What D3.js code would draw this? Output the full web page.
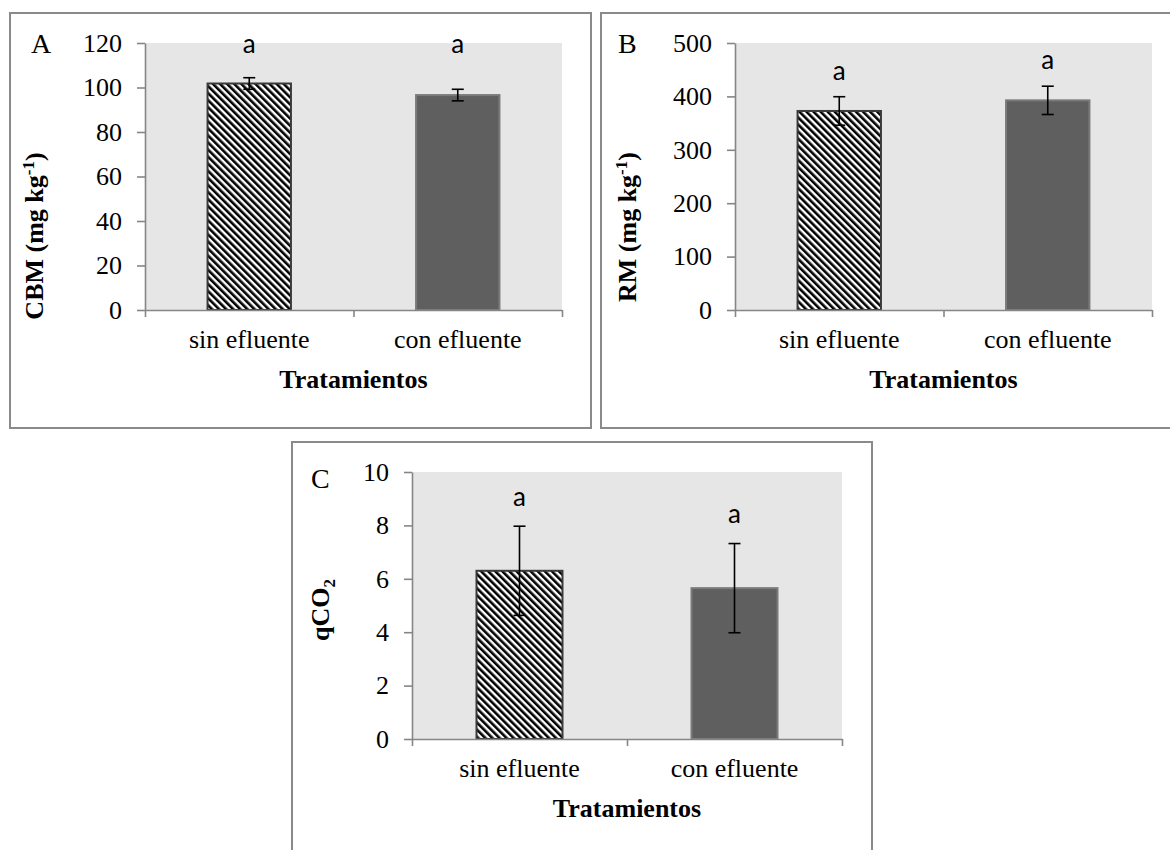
<!DOCTYPE html>
<html>
<head>
<meta charset="utf-8">
<script src="https://cdn.jsdelivr.net/npm/d3@7"></script>
<style>
body { margin: 0; background: #fff; }
svg text { font-family: "Liberation Serif", "Times New Roman", serif; }
svg text.sig { font-family: Lato, "Open Sans", sans-serif; }
</style>
</head>
<body>
<svg id="fig"></svg>
<script>
var width = 1170;
var height = 850;
var serif = 'Liberation Serif';

// data
var categories = ["sin efluente", "con efluente"];

var cbmValues = [101.8, 96.6];
var cbmErrors = [2.6, 2.6];
var cbmTicks = [0, 20, 40, 60, 80, 100, 120];
var cbmLetters = ["a", "a"];
var cbmLetterAt = [115.4, 115.4];

var rmValues = [372.7, 392.6];
var rmErrors = [26.7, 26.5];
var rmTicks = [0, 100, 200, 300, 400, 500];
var rmLetters = ["a", "a"];
var rmLetterAt = [430.7, 450.7];

var qco2Values = [6.3, 5.65];
var qco2Errors = [1.67, 1.67];
var qco2Ticks = [0, 2, 4, 6, 8, 10];
var qco2Letters = ["a", "a"];
var qco2LetterAt = [8.74, 8.08];

var xTitle = "Tratamientos";
var fills = ["url(#hatch)", "#5f5f5f"];
var strokes = ["#3a3a3a", "#7a7a7a"];

var svg = d3.select('#fig')
    .attr('width', width)
    .attr('height', height);

// diagonal hatch for the "sin efluente" bars
var pat = svg.append('defs').append('pattern')
    .attr('id', 'hatch')
    .attr('patternUnits', 'userSpaceOnUse')
    .attr('width', 5)
    .attr('height', 5)
    .attr('patternTransform', 'rotate(-45)');
pat.append('rect').attr('width', 5).attr('height', 5).attr('fill', '#fff');
pat.append('rect').attr('width', 2.6).attr('height', 5).attr('fill', '#000');

var panels = [
    {letter: "A", frame: [10, 13, 591, 428], plot: [145, 43, 562, 310],
     values: cbmValues, errors: cbmErrors, ticks: cbmTicks, letters: cbmLetters, letterAt: cbmLetterAt,
     title: [["CBM (mg kg", 0], ["-1", -1], [")", 0]], titleX: 43, titleY: 236,
     letterX: 31, letterY: 53},
    {letter: "B", frame: [601, 13, 1181, 428], plot: [735, 43, 1152, 310],
     values: rmValues, errors: rmErrors, ticks: rmTicks, letters: rmLetters, letterAt: rmLetterAt,
     title: [["RM (mg kg", 0], ["-1", -1], [")", 0]], titleX: 636, titleY: 227,
     letterX: 618, letterY: 53},
    {letter: "C", frame: [292, 442, 872, 880], plot: [412, 472, 842, 739],
     values: qco2Values, errors: qco2Errors, ticks: qco2Ticks, letters: qco2Letters, letterAt: qco2LetterAt,
     title: [["qCO", 0], ["2", 1]], titleX: 329, titleY: 610,
     letterX: 311, letterY: 488}
];

panels.forEach(drawPanel);

function drawPanel(p) {
    var g = svg.append('g');
    var left = p.plot[0], top = p.plot[1], right = p.plot[2], bottom = p.plot[3];

    g.append('rect')
        .attr('x', p.frame[0]).attr('y', p.frame[1])
        .attr('width', p.frame[2] - p.frame[0])
        .attr('height', p.frame[3] - p.frame[1])
        .attr('fill', '#fff')
        .attr('stroke', '#8a8a8a')
        .attr('stroke-width', 2);

    var x = d3.scaleBand()
        .domain(categories)
        .range([left, right])
        .paddingInner(0.6)
        .paddingOuter(0.3);

    var y = d3.scaleLinear()
        .domain([0, d3.max(p.ticks)])
        .range([bottom, top]);

    g.append('rect')
        .attr('x', left).attr('y', top)
        .attr('width', right - left).attr('height', bottom - top)
        .attr('fill', '#e6e6e6');

    var rows = categories.map(function(c, i) {
        return {cat: c, v: p.values[i], e: p.errors[i], lab: p.letters[i], at: p.letterAt[i], i: i};
    });

    g.selectAll('rect.bar')
        .data(rows)
        .enter()
        .append('rect')
        .attr('class', 'bar')
        .attr('x', function(d) { return x(d.cat); })
        .attr('y', function(d) { return y(d.v); })
        .attr('width', x.bandwidth())
        .attr('height', function(d) { return y(0) - y(d.v); })
        .style('fill', function(d) { return fills[d.i]; })
        .style('stroke', function(d) { return strokes[d.i]; })
        .style('stroke-width', 2);

    var eb = g.selectAll('g.err')
        .data(rows)
        .enter()
        .append('g')
        .attr('class', 'err')
        .attr('stroke', '#000')
        .attr('stroke-width', 1.6);
    var cx = function(d) { return x(d.cat) + x.bandwidth() / 2; };
    eb.append('line')
        .attr('x1', cx).attr('x2', cx)
        .attr('y1', function(d) { return y(d.v + d.e); })
        .attr('y2', function(d) { return y(d.v - d.e); });
    eb.append('line')
        .attr('x1', function(d) { return cx(d) - 6; }).attr('x2', function(d) { return cx(d) + 6; })
        .attr('y1', function(d) { return y(d.v + d.e); })
        .attr('y2', function(d) { return y(d.v + d.e); });
    eb.append('line')
        .attr('x1', function(d) { return cx(d) - 6; }).attr('x2', function(d) { return cx(d) + 6; })
        .attr('y1', function(d) { return y(d.v - d.e); })
        .attr('y2', function(d) { return y(d.v - d.e); });

    g.selectAll('text.sig')
        .data(rows)
        .enter()
        .append('text')
        .attr('class', 'sig')
        .attr('x', cx)
        .attr('y', function(d) { return y(d.at); })
        .attr('text-anchor', 'middle')
        .style('font-size', '26px')
        .text(function(d) { return d.lab; });

    // y axis
    var ya = g.append('g')
        .attr('transform', 'translate(' + left + ',0)')
        .call(d3.axisLeft(y).tickValues(p.ticks).tickSize(8).tickPadding(15).tickSizeOuter(0));

    // x axis: boundary ticks + category labels
    var xb = d3.scaleLinear().domain([0, categories.length]).range([left, right]);
    var xa = g.append('g')
        .attr('transform', 'translate(0,' + bottom + ')')
        .call(d3.axisBottom(xb).tickValues(d3.range(0, categories.length + 1)).tickSize(7).tickFormat('').tickSizeOuter(0));
    var xl = g.append('g')
        .attr('transform', 'translate(0,' + bottom + ')')
        .call(d3.axisBottom(x).tickSize(0).tickPadding(20));
    xl.select('.domain').remove();

    [ya, xa].forEach(function(a) {
        a.selectAll('.domain, line').attr('stroke', '#868686').attr('stroke-width', 1.6);
    });
    [ya, xa, xl].forEach(function(a) {
        a.attr('font-family', serif).attr('font-size', 26);
        a.selectAll('text')
            .attr('font-family', serif)
            .attr('fill', '#000');
    });
    xl.selectAll('text').attr('dy', '0.71em').attr('y', 20);

    g.append('text')
        .attr('x', (left + right) / 2)
        .attr('y', bottom + 77.5)
        .attr('text-anchor', 'middle')
        .style('font-size', '26px')
        .style('font-weight', 'bold')
        .text(xTitle);

    var yt = g.append('text')
        .attr('transform', 'translate(' + p.titleX + ',' + p.titleY + ') rotate(-90)')
        .attr('text-anchor', 'middle')
        .attr('dy', '0.35em')
        .style('font-size', '26px')
        .style('font-weight', 'bold');
    var shift = 0;
    p.title.forEach(function(part) {
        var want = part[1] < 0 ? -9 : (part[1] > 0 ? 6 : 0);
        yt.append('tspan')
            .attr('dy', want - shift)
            .style('font-size', part[1] !== 0 ? '17px' : null)
            .text(part[0]);
        shift = want;
    });

    g.append('text')
        .attr('x', p.letterX)
        .attr('y', p.letterY)
        .style('font-size', '28px')
        .text(p.letter);
}
</script>
</body>
</html>
